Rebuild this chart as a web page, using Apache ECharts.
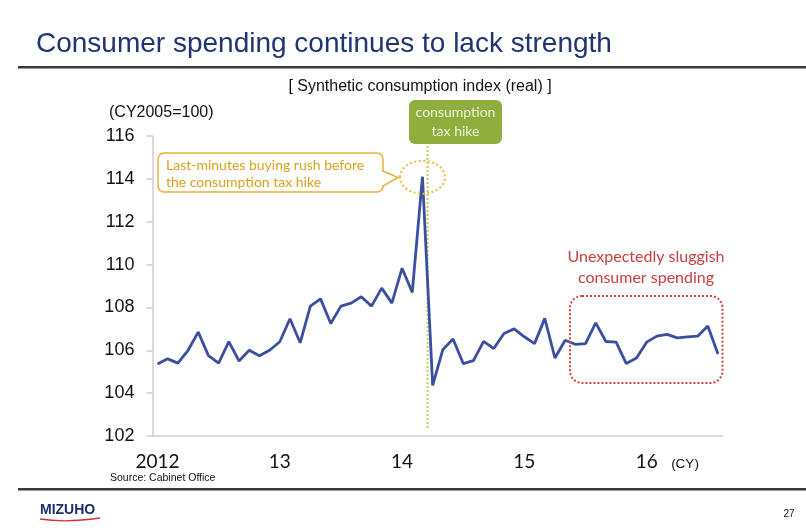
<!DOCTYPE html>
<html><head><meta charset="utf-8">
<script src="https://cdn.jsdelivr.net/npm/echarts@6/dist/echarts.min.js"></script>
<style>html,body{margin:0;padding:0;background:#fff}#chart{width:806px;height:531px}</style>
</head><body><div id="chart"></div>
<script>
// Synthetic consumption index (real), CY2005 = 100, monthly
const years = [2012, 2013, 2014, 2015, 2016];
const yearLabels = ['2012', '13', '14', '15', '16'];
const lastMonthOfFinalYear = 8;
const indexValues = [
  105.36, 105.60, 105.40, 106.00, 106.85, 105.75, 105.40, 106.40, 105.50, 106.00, 105.75, 106.00,
  106.40, 107.47, 106.35, 108.06, 108.40, 107.25, 108.06, 108.20, 108.50, 108.06, 108.90, 108.20,
  109.83, 108.70, 114.10, 104.36, 106.03, 106.53, 105.38, 105.52, 106.42, 106.08, 106.78, 107.00,
  106.63, 106.31, 107.49, 105.64, 106.47, 106.28, 106.31, 107.28, 106.41, 106.38, 105.38, 105.64,
  106.38, 106.66, 106.74, 106.58, 106.63, 106.66, 107.13, 105.83
];
const yTicks = { min: 102, max: 116, step: 2 };
const peakMonth = '2014-03';
const hikeMonth = '2014-04';

const months = [];
years.forEach(function (y, i) {
  const n = i === years.length - 1 ? lastMonthOfFinalYear : 12;
  for (let m = 1; m <= n; m++) months.push(y + '-' + (m < 10 ? '0' + m : m));
});

const chart = echarts.init(document.getElementById('chart'));
const sans = 'Liberation Sans, Arial, sans-serif';
const soft = 'Lato, Open Sans, sans-serif';

chart.setOption({
  backgroundColor: '#ffffff',
  animation: false,
  grid: { left: 152.4, right: 82.9, top: 136, bottom: 95 },
  xAxis: {
    type: 'category',
    data: months,
    boundaryGap: true,
    axisLine: { lineStyle: { color: '#cdcdcd', width: 1.5 } },
    axisTick: { show: false },
    splitLine: { show: false },
    axisLabel: {
      interval: function (i, v) { return v.slice(5) === '01'; },
      formatter: function (v) { return yearLabels[years.indexOf(+v.slice(0, 4))]; },
      fontFamily: soft, fontSize: 19, color: '#111', margin: 16
    }
  },
  yAxis: {
    type: 'value',
    min: yTicks.min, max: yTicks.max, interval: yTicks.step,
    axisLine: { show: true, lineStyle: { color: '#cdcdcd', width: 1.5 } },
    axisTick: { show: true, length: 6, lineStyle: { color: '#cdcdcd', width: 1.5 } },
    splitLine: { show: false },
    axisLabel: { fontFamily: sans, fontSize: 18, color: '#111', margin: 18 }
  },
  series: [{
    type: 'line',
    data: indexValues,
    showSymbol: false,
    lineStyle: { color: '#3b4f9f', width: 2.8 },
    z: 5
  }]
});

// annotations placed from the axes' own scales
const peakPt = chart.convertToPixel({ seriesIndex: 0 }, [months.indexOf(peakMonth), indexValues[months.indexOf(peakMonth)]]);
const hikeX = (chart.convertToPixel({ xAxisIndex: 0 }, peakMonth) + chart.convertToPixel({ xAxisIndex: 0 }, hikeMonth)) / 2;
const baseY = chart.convertToPixel({ yAxisIndex: 0 }, yTicks.min);

chart.setOption({
  graphic: [
    // header
    { type: 'text', left: 36, top: 30, style: { text: 'Consumer spending continues to lack strength', font: '28px ' + sans, fill: '#1f3470' } },
    { type: 'rect', shape: { x: 18, y: 66, width: 788, height: 2.5 }, style: { fill: '#3a3a3a' } },
    { type: 'text', x: 420, y: 87, style: { text: '[ Synthetic consumption index (real) ]', font: '16px ' + sans, fill: '#111', align: 'center', verticalAlign: 'middle' } },
    { type: 'text', x: 109, y: 113, style: { text: '(CY2005=100)', font: '16px ' + sans, fill: '#111', verticalAlign: 'middle' } },

    // tax hike marker
    { type: 'line', shape: { x1: hikeX, y1: 146, x2: hikeX, y2: baseY - 6 }, style: { stroke: '#c6c860', lineWidth: 2, lineDash: [2, 2] }, z: 4 },
    { type: 'rect', shape: { x: 409, y: 100, width: 93, height: 44, r: 6 }, style: { fill: '#8fae3e' }, z: 6 },
    { type: 'text', x: 455.5, y: 112, style: { text: 'consumption', font: '14px ' + soft, fill: '#eef3dc', align: 'center', verticalAlign: 'middle' }, z: 7 },
    { type: 'text', x: 455.5, y: 131, style: { text: 'tax hike', font: '14px ' + soft, fill: '#eef3dc', align: 'center', verticalAlign: 'middle' }, z: 7 },

    // buying rush callout
    { type: 'ellipse', shape: { cx: peakPt[0], cy: peakPt[1] + 0.5, rx: 22.5, ry: 16.5 }, style: { fill: 'none', stroke: '#ecbc3a', lineWidth: 2, lineDash: [2, 2.5] }, z: 6 },
    { type: 'rect', shape: { x: 158, y: 153, width: 225, height: 39, r: 6 }, style: { fill: '#fff', stroke: '#e8b235', lineWidth: 1.5 }, z: 6 },
    { type: 'polyline', shape: { points: [[383, 171], [398, 177.5], [383, 186]] }, style: { stroke: '#e8b235', lineWidth: 1.5, fill: '#fff' }, z: 7 },
    { type: 'line', shape: { x1: 383, y1: 172, x2: 383, y2: 185 }, style: { stroke: '#fff', lineWidth: 2.5 }, z: 7 },
    { type: 'text', x: 166, y: 165, style: { text: 'Last-minutes buying rush before', font: '14px ' + soft, fill: '#d9a21e', verticalAlign: 'middle' }, z: 8 },
    { type: 'text', x: 166, y: 182, style: { text: 'the consumption tax hike', font: '14px ' + soft, fill: '#d9a21e', verticalAlign: 'middle' }, z: 8 },

    // sluggish spending box
    { type: 'text', x: 646, y: 257, style: { text: 'Unexpectedly sluggish', font: '16px ' + soft, fill: '#c84040', align: 'center', verticalAlign: 'middle' } },
    { type: 'text', x: 646, y: 278, style: { text: 'consumer spending', font: '16px ' + soft, fill: '#c84040', align: 'center', verticalAlign: 'middle' } },
    { type: 'rect', shape: { x: 570, y: 296, width: 152.5, height: 87, r: 12 }, style: { fill: 'none', stroke: '#d24444', lineWidth: 2, lineDash: [2, 2] }, z: 6 },

    // footer
    { type: 'text', x: 685, y: 464, style: { text: '(CY)', font: '13.5px ' + sans, fill: '#111', align: 'center', verticalAlign: 'middle' } },
    { type: 'text', x: 110, y: 478, style: { text: 'Source: Cabinet Office', font: '10.5px ' + sans, fill: '#111', verticalAlign: 'middle' } },
    { type: 'rect', shape: { x: 18, y: 488, width: 788, height: 2.5 }, style: { fill: '#3a3a3a' } },
    { type: 'text', x: 40, y: 510, style: { text: 'MIZUHO', font: 'bold 14px ' + sans, fill: '#1c2c6c', verticalAlign: 'middle' } },
    { type: 'bezierCurve', shape: { x1: 40, y1: 519, x2: 100, y2: 518, cpx1: 66, cpy1: 523 }, style: { stroke: '#d03030', lineWidth: 1.3, fill: 'none' } },
    { type: 'text', x: 789, y: 514, style: { text: '27', font: '10px ' + sans, fill: '#111', align: 'center', verticalAlign: 'middle' } }
  ]
});
</script>
</body></html>
